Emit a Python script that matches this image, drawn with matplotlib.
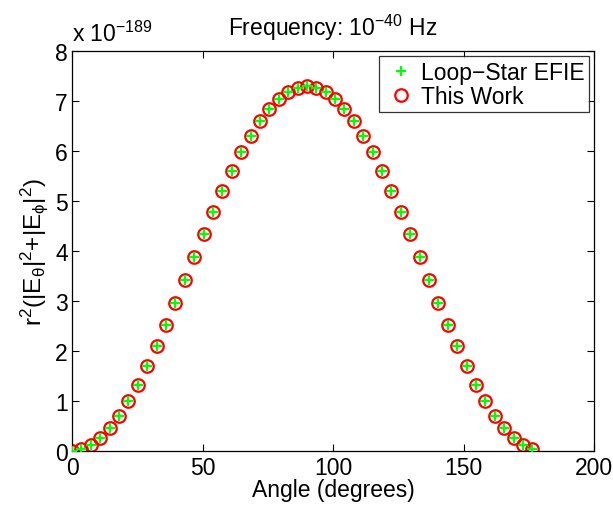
import matplotlib
matplotlib.use("Agg")
import matplotlib.pyplot as plt

plt.rcParams['font.family'] = ['Liberation Sans', 'DejaVu Sans']
plt.rcParams['mathtext.fontset'] = 'custom'
plt.rcParams['mathtext.rm'] = 'Liberation Sans'
plt.rcParams['mathtext.it'] = 'Liberation Sans'
plt.rcParams['mathtext.default'] = 'rm'

angles = [3.6 * k for k in range(50)]
half = [0.0, 0.029, 0.115, 0.256, 0.451, 0.697, 0.989, 1.323, 1.694, 2.096,
        2.522, 2.966, 3.420, 3.880, 4.334, 4.778, 5.204, 5.606, 5.977, 6.311,
        6.603, 6.849, 7.044, 7.185, 7.271]
loop_star = half + [7.300] + half[:0:-1]
this_work = list(loop_star)

xticks = [0, 50, 100, 150, 200]
yticks = [0, 1, 2, 3, 4, 5, 6, 7, 8]

FS = 16.5

fig = plt.figure(figsize=(6.13, 5.06), dpi=100)
ax = fig.add_axes([0.1175, 0.107, 0.8515, 0.79])

ax.plot(angles, this_work, 'o', mfc='none', mec='#ff0000', ms=9, mew=1.6,
        label='This Work', zorder=2)
ax.plot(angles, loop_star, '+', color='#00ff00', ms=7, mew=1.6,
        label='Loop\u2212Star EFIE', zorder=3)

ax.set_xlim(0, 200)
ax.set_ylim(0, 8)
ax.set_xticks(xticks)
ax.set_yticks(yticks)
ax.tick_params(direction='in', top=True, right=True, labelsize=FS,
               length=5, width=0.8)
ax.tick_params(axis='x', pad=4)
ax.tick_params(axis='y', pad=3)
for s in ax.spines.values():
    s.set_linewidth(0.9)

ax.set_xlabel('Angle (degrees)', fontsize=FS, labelpad=-1)
ax.set_ylabel(r'r$^2$(|E$_\theta$|$^2$+|E$_\phi$|$^2$)', fontsize=FS + 1, labelpad=4)
ax.set_title(r'Frequency: 10$^{-40}$ Hz', fontsize=FS, pad=12)
ax.text(0.0, 1.012, r'x 10$^{-189}$', transform=ax.transAxes,
        fontsize=FS, ha='left', va='bottom')

h, l = ax.get_legend_handles_labels()
leg = ax.legend(h[::-1], l[::-1], loc='upper right', fontsize=FS,
                frameon=True, fancybox=False, edgecolor='black',
                borderaxespad=0.22, handletextpad=0.1, borderpad=0.2,
                labelspacing=0.05, handlelength=1.5)
leg.get_frame().set_linewidth(0.9)

fig.savefig('out.png', dpi=100)
